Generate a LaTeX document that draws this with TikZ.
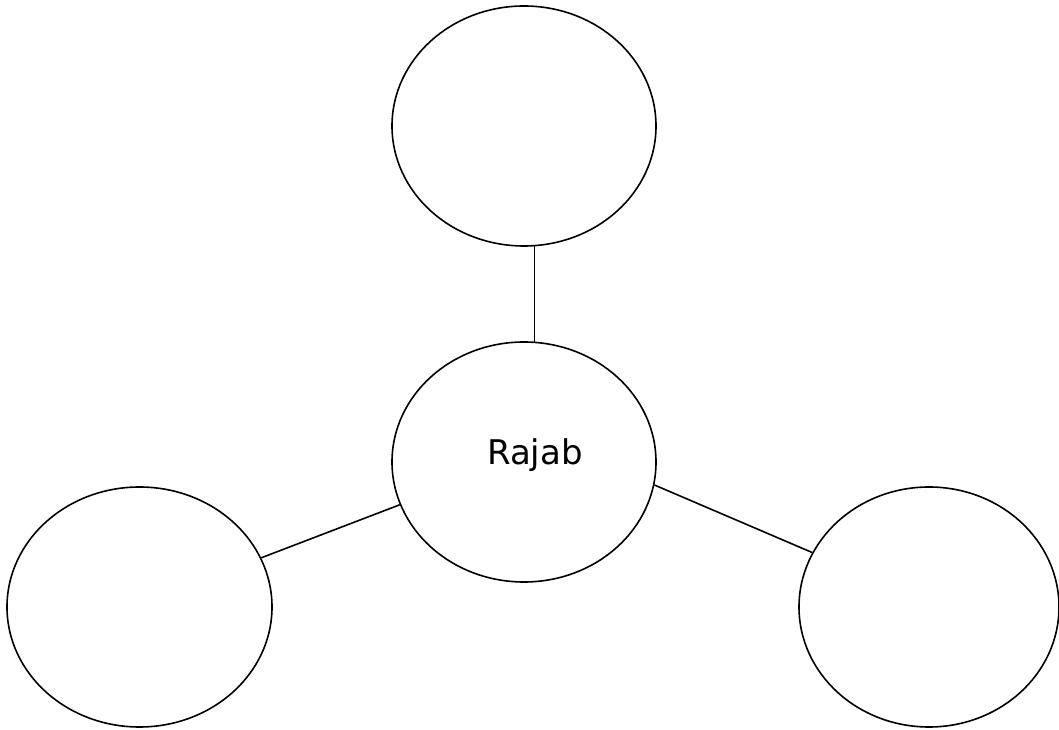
\documentclass[tikz,border=0pt]{standalone}
\usepackage{fontspec}
\setmainfont{DejaVu Sans}
\usetikzlibrary{shapes.geometric}
\begin{document}
\begin{tikzpicture}[x=1pt,y=1pt,
  bubble/.style={draw=black, line width=1.6pt, ellipse, inner sep=0pt, minimum width=264pt, minimum height=240pt},
  link/.style={draw=black, line width=1.6pt},
  lbl/.style={font=\fontsize{34}{40}\selectfont, inner sep=0pt}]
\useasboundingbox (0,0) rectangle (1059,730);
\node[bubble] (top) at (524,604) {};
\node[bubble] (center) at (524,268) {};
\node[bubble, minimum width=265pt] (left) at (139.5,123) {};
\node[bubble, minimum width=260pt] (right) at (929,123) {};
\node[lbl, anchor=base] (name) at (535,265) {Rajab};
\draw[link] (top.-85) -- (center.85);
\draw[link] (left.22) -- (center.199);
\draw[link] (center.-10) -- (right.155);
\end{tikzpicture}
\end{document}
